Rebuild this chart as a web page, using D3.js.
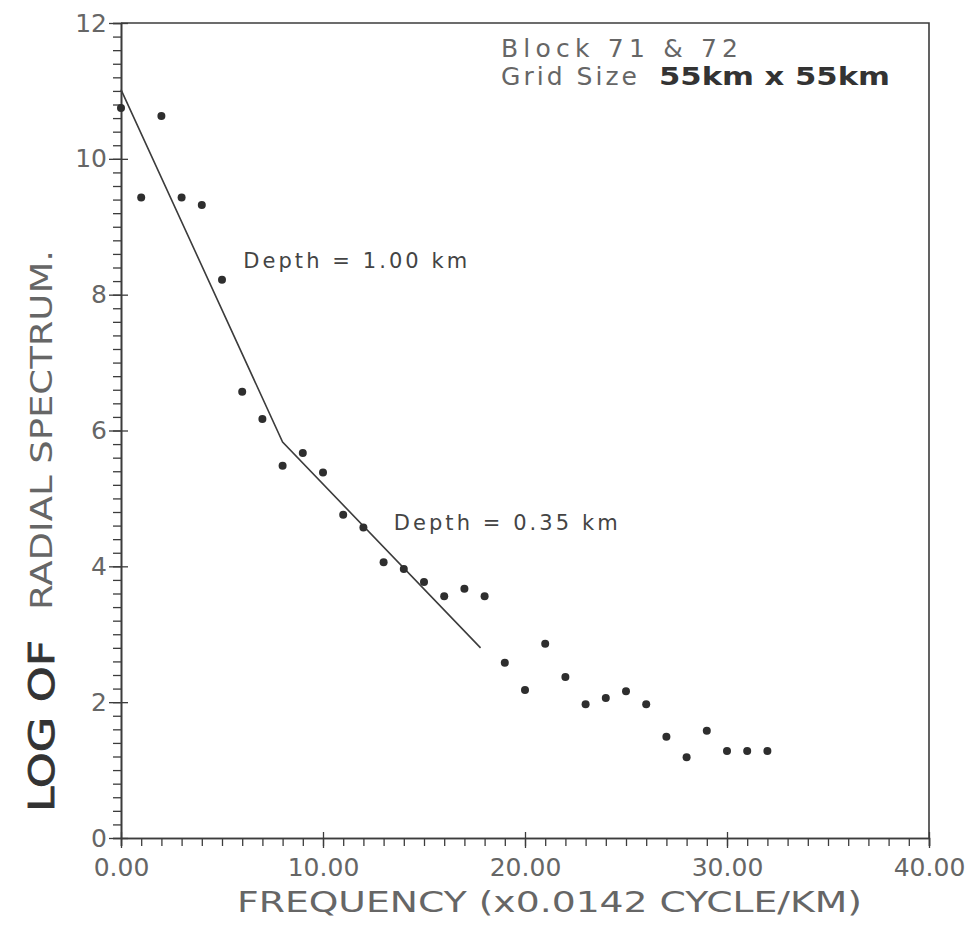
<!DOCTYPE html>
<html>
<head>
<meta charset="utf-8">
<script src="https://cdn.jsdelivr.net/npm/d3@7"></script>
<style>
  body { margin: 0; background: #fff; }
  svg { display: block; font-family: "DejaVu Sans", sans-serif; }
</style>
</head>
<body>
<svg width="971" height="932"></svg>
<script>

// frequency index (x0.0142 cycle/km)
const freq = [0, 1, 2, 3, 4, 5, 6, 7, 8, 9, 10, 11, 12, 13, 14, 15, 16,
              17, 18, 19, 20, 21, 22, 23, 24, 25, 26, 27, 28, 29, 30, 31, 32];

// log of radial spectrum
const logSpec = [10.75, 9.43, 10.63, 9.43, 9.32, 8.22, 6.57, 6.17, 5.48, 5.67, 5.38,
                 4.76, 4.57, 4.06, 3.96, 3.77, 3.56, 3.67, 3.56, 2.58, 2.18, 2.86,
                 2.37, 1.97, 2.06, 2.16, 1.97, 1.49, 1.19, 1.58, 1.28, 1.28, 1.28];

// two straight line fits (deep / shallow source)
const fitFreq = [0, 8.0, 17.8];
const fitLog = [11.02, 5.83, 2.80];

const xTickValues = [0, 10, 20, 30, 40];
const yTickValues = [0, 2, 4, 6, 8, 10, 12];

const depthLabels = ["Depth  =  1.00  km", "Depth  =  0.35  km"];
const depthAt = [[6.05, 8.4], [13.5, 4.54]];

const svg = d3.select("svg");
const ink = "#3c3c3c";

const margin = { top: 23, right: 42, bottom: 94, left: 121 };
const width = +svg.attr("width") - margin.left - margin.right;
const height = +svg.attr("height") - margin.top - margin.bottom;

const x = d3.scaleLinear().domain([0, 40]).range([0, width]);
const y = d3.scaleLinear().domain([0, 12]).range([height, 0]);

const chart = svg.append("g")
    .attr("transform", "translate(" + margin.left + "," + margin.top + ")");

// frame (top and right)
chart.append("path")
    .attr("d", "M0,0H" + width + "V" + height)
    .attr("fill", "none")
    .attr("stroke", ink)
    .attr("stroke-width", 1.6);

// x axis: minor every 1, major every 10
chart.append("g")
    .attr("transform", "translate(0," + height + ")")
    .call(d3.axisBottom(x).tickValues(d3.range(0, 40.5, 1)).tickSize(8).tickFormat(""));

chart.append("g")
    .attr("class", "major")
    .attr("transform", "translate(0," + height + ")")
    .call(d3.axisBottom(x).tickValues(xTickValues).tickSizeInner(10).tickSizeOuter(0)
      .tickPadding(10).tickFormat(d3.format(".2f")))
    .call(g => g.selectAll(".tick").append("line").attr("y2", -6).attr("stroke", ink));

// y axis: minor every 0.2, major every 2
chart.append("g")
    .call(d3.axisLeft(y).tickValues(d3.range(0, 12.01, 0.2)).tickSize(8).tickFormat(""));

chart.append("g")
    .attr("class", "major")
    .call(d3.axisLeft(y).tickValues(yTickValues).tickSizeInner(12).tickSizeOuter(0)
      .tickPadding(2))
    .call(g => g.selectAll(".tick").append("line").attr("x2", 7).attr("stroke", ink));

chart.selectAll(".domain").attr("stroke", ink).attr("stroke-width", 1.6);
chart.selectAll(".tick line").attr("stroke", ink).attr("stroke-width", 1.3);
chart.selectAll(".major text")
    .attr("fill", "#666")
    .style("font-family", "'DejaVu Sans', sans-serif");
chart.selectAll(".major .tick text").style("font-size", "25px");

// fitted lines
const line = d3.line().x((d, i) => x(fitFreq[i])).y(d => y(d));
chart.append("path")
    .datum(fitLog)
    .attr("d", line)
    .attr("fill", "none")
    .attr("stroke", ink)
    .attr("stroke-width", 1.6);

// data points
chart.selectAll("circle.pt")
    .data(logSpec)
    .enter()
    .append("circle")
    .attr("class", "pt")
    .attr("cx", (d, i) => x(freq[i]))
    .attr("cy", d => y(d))
    .attr("r", 4)
    .attr("fill", "#2e2e2e");

// depth annotations
chart.selectAll("text.depth")
    .data(depthLabels)
    .enter()
    .append("text")
    .attr("class", "depth")
    .attr("x", (d, i) => x(depthAt[i][0]))
    .attr("y", (d, i) => y(depthAt[i][1]))
    .attr("textLength", 224)
    .attr("lengthAdjust", "spacing")
    .attr("fill", "#444")
    .style("font-size", "21px")
    .text(d => d);

// block / grid header
svg.append("text")
    .attr("x", 501).attr("y", 57)
    .attr("textLength", 237).attr("lengthAdjust", "spacing")
    .attr("fill", "#666")
    .style("font-size", "25px")
    .text("Block  71  &  72");

svg.append("text")
    .attr("x", 501).attr("y", 85)
    .attr("textLength", 136).attr("lengthAdjust", "spacing")
    .attr("fill", "#666")
    .style("font-size", "25px")
    .text("Grid  Size");

svg.append("text")
    .attr("x", 659).attr("y", 85)
    .attr("textLength", 231).attr("lengthAdjust", "spacingAndGlyphs")
    .attr("fill", "#333")
    .style("font-size", "25px")
    .style("font-weight", "bold")
    .text("55km  x  55km");

// x axis title
svg.append("text")
    .attr("x", 237).attr("y", 912)
    .attr("textLength", 625).attr("lengthAdjust", "spacingAndGlyphs")
    .attr("fill", "#666")
    .style("font-size", "29px")
    .text("FREQUENCY  (x0.0142  CYCLE/KM)");

// y axis title
svg.append("text")
    .attr("transform", "translate(54,812) rotate(-90)")
    .attr("textLength", 172).attr("lengthAdjust", "spacingAndGlyphs")
    .attr("fill", "#333")
    .attr("stroke", "#333")
    .attr("stroke-width", 0.8)
    .style("font-size", "36px")
    .text("LOG  OF");

svg.append("text")
    .attr("transform", "translate(52,610) rotate(-90)")
    .attr("textLength", 360).attr("lengthAdjust", "spacingAndGlyphs")
    .attr("fill", "#666")
    .style("font-size", "31px")
    .text("RADIAL  SPECTRUM.");

</script>
</body>
</html>
